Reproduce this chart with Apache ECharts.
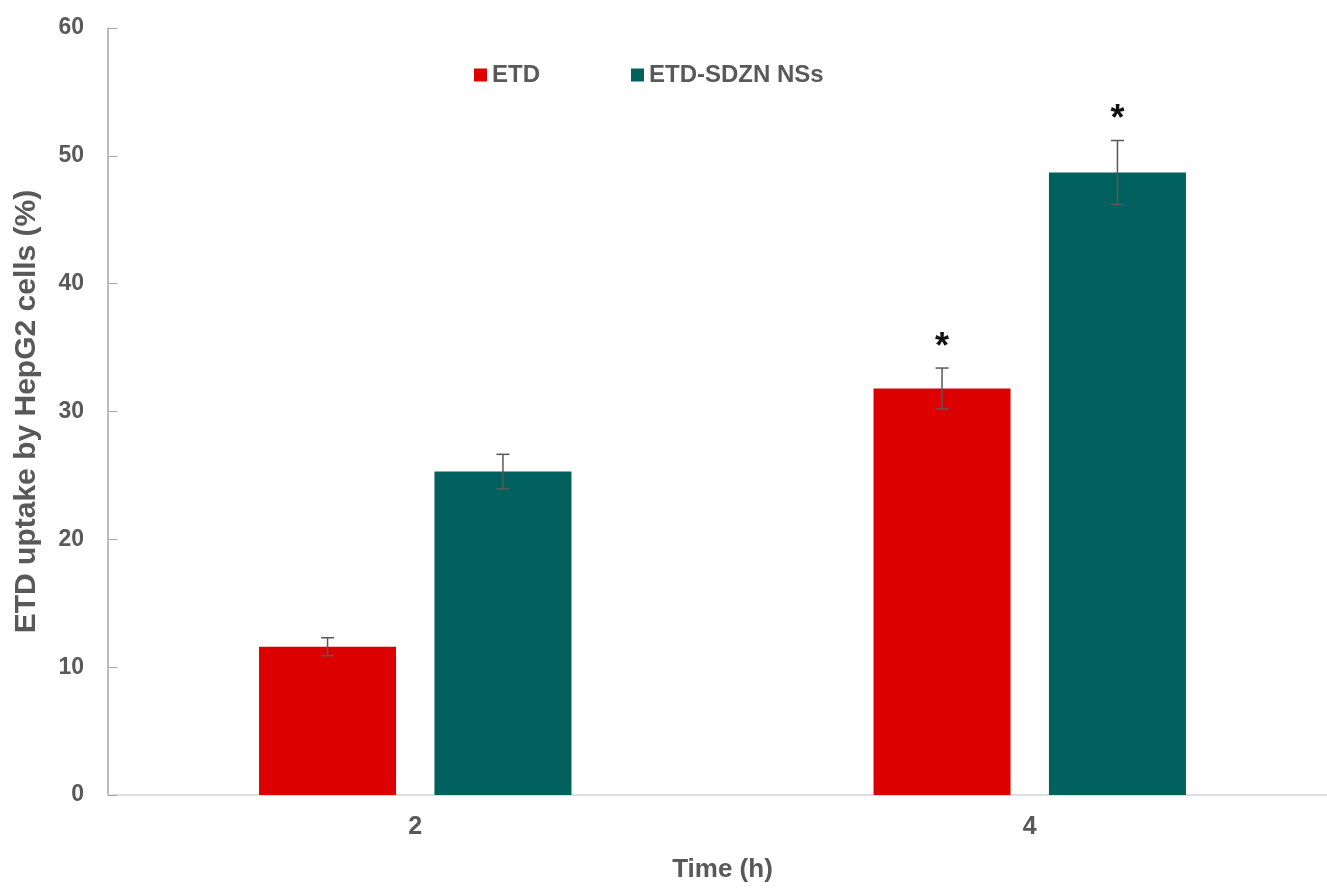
<!DOCTYPE html>
<html>
<head>
<meta charset="utf-8">
<script src="https://cdn.jsdelivr.net/npm/echarts@6/dist/echarts.min.js"></script>
<style>
  html, body { margin: 0; padding: 0; background: #fff; }
  #main { width: 1327px; height: 889px; }
</style>
</head>
<body>
<div id="main"></div>
<script>
var categories = ['2', '4'];
var seriesNames = ['ETD', 'ETD-SDZN NSs'];
var etd = [11.6, 31.8];
var etdErr = [0.7, 1.6];
var etdMark = ['', '*'];
var sdzn = [25.3, 48.7];
var sdznErr = [1.35, 2.5];
var sdznMark = ['', '*'];
var yTicks = [0, 60, 10];

var colors = ['#DC0000', '#00615F'];
var textGray = '#595959';
var barFrac = 0.223;   // bar width as part of the category band
var gapFrac = 0.28;    // gap between bars as part of bar width

var myChart = echarts.init(document.getElementById('main'));

function errorSeries(slot, values, errs, marks) {
    var data = categories.map(function (c, i) {
        return [i, values[i], errs[i], marks[i]];
    });
    return {
        type: 'custom',
        name: seriesNames[slot] + ' err',
        silent: true,
        z: 5,
        data: data,
        renderItem: function (params, api) {
            var idx = api.value(0);
            var v = api.value(1);
            var e = api.value(2);
            var mark = data[params.dataIndex][3];
            var band = api.size([1, 0])[0];
            var bw = band * barFrac;
            var off = (slot - 0.5) * (bw + bw * gapFrac);
            var x = api.coord([idx, v])[0] + off;
            var top = api.coord([idx, v + e])[1];
            var bot = api.coord([idx, v - e])[1];
            var cap = 6.5;
            var st = { stroke: textGray, lineWidth: 1.5 };
            var children = [
                { type: 'line', shape: { x1: x, y1: top, x2: x, y2: bot }, style: st },
                { type: 'line', shape: { x1: x - cap, y1: top, x2: x + cap, y2: top }, style: st },
                { type: 'line', shape: { x1: x - cap, y1: bot, x2: x + cap, y2: bot }, style: st }
            ];
            if (mark) {
                children.push({
                    type: 'text',
                    style: {
                        x: x, y: top - 20, text: mark,
                        fill: '#111', fontSize: 36, fontWeight: 'bold',
                        fontFamily: 'Liberation Sans, Arial, sans-serif',
                        align: 'center', verticalAlign: 'middle'
                    }
                });
            }
            return { type: 'group', children: children };
        }
    };
}

var option = {
    animation: false,
    textStyle: { fontFamily: 'Liberation Sans, Arial, sans-serif' },
    legend: {
        data: seriesNames,
        left: 469,
        top: 58,
        itemWidth: 13,
        itemHeight: 13,
        itemGap: 91,
        icon: 'rect',
        textStyle: { fontSize: 24, fontWeight: 'bold', color: textGray }
    },
    grid: {
        left: 108,
        right: -10,
        top: 28,
        bottom: 94,
        outerBoundsMode: 'none'
    },
    xAxis: {
        type: 'category',
        data: categories,
        name: 'Time (h)',
        nameLocation: 'middle',
        nameGap: 62,
        nameTextStyle: { fontSize: 26, fontWeight: 'bold', color: textGray },
        axisLine: { lineStyle: { color: '#d4d4d4', width: 1.5 } },
        axisTick: { inside: true, length: 11, lineStyle: { color: '#d4d4d4' } },
        axisLabel: { fontSize: 25, fontWeight: 'bold', color: textGray, margin: 20 }
    },
    yAxis: {
        type: 'value',
        min: yTicks[0],
        max: yTicks[1],
        interval: yTicks[2],
        name: 'ETD uptake by HepG2 cells (%)',
        nameLocation: 'middle',
        nameGap: 66,
        nameTextStyle: { fontSize: 30, fontWeight: 'bold', color: textGray },
        splitLine: { show: false },
        axisLine: { show: true, lineStyle: { color: '#a6a6a6', width: 1.5 } },
        axisTick: { show: true, inside: true, length: 9, lineStyle: { color: '#a6a6a6' } },
        axisLabel: { fontSize: 23, fontWeight: 'bold', color: textGray, margin: 24 }
    },
    series: [
        {
            name: seriesNames[0],
            type: 'bar',
            data: etd,
            barWidth: (barFrac * 100) + '%',
            barGap: (gapFrac * 100) + '%',
            itemStyle: { color: colors[0] }
        },
        {
            name: seriesNames[1],
            type: 'bar',
            data: sdzn,
            barWidth: (barFrac * 100) + '%',
            barGap: (gapFrac * 100) + '%',
            itemStyle: { color: colors[1] }
        },
        errorSeries(0, etd, etdErr, etdMark),
        errorSeries(1, sdzn, sdznErr, sdznMark)
    ]
};

myChart.setOption(option);
</script>
</body>
</html>
